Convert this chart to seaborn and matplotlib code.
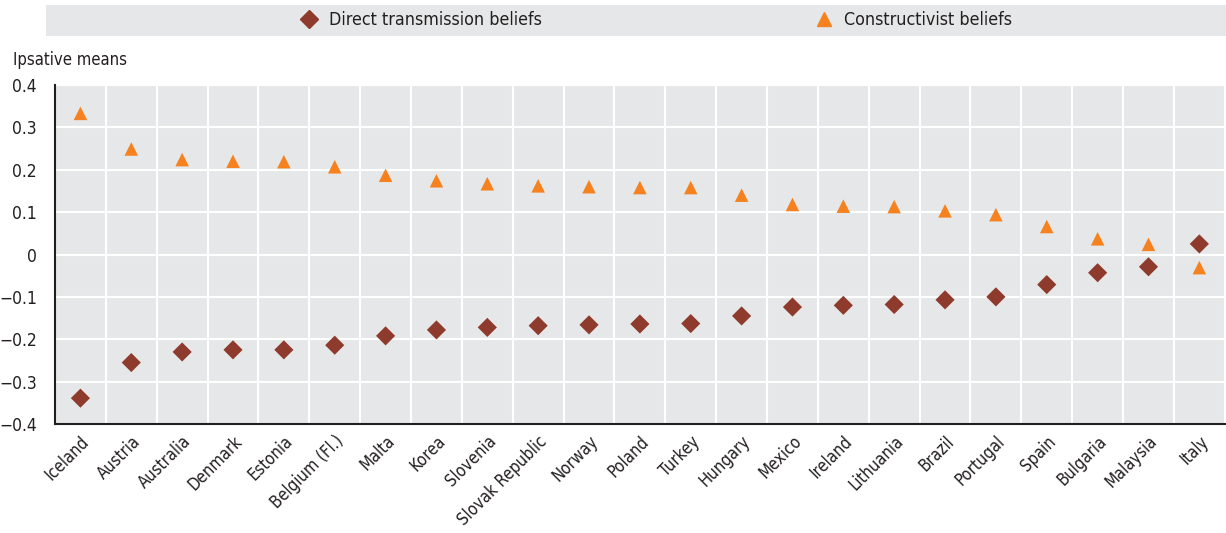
import numpy as np
import pandas as pd
import matplotlib
matplotlib.use("Agg")
import matplotlib.pyplot as plt
import seaborn as sns
from matplotlib.lines import Line2D
from matplotlib.patches import Rectangle
from matplotlib.ticker import FixedLocator, MultipleLocator

# Données
countries = ["Iceland", "Austria", "Australia", "Denmark", "Estonia", "Belgium (Fl.)",
             "Malta", "Korea", "Slovenia", "Slovak Republic", "Norway", "Poland",
             "Turkey", "Hungary", "Mexico", "Ireland", "Lithuania", "Brazil",
             "Portugal", "Spain", "Bulgaria", "Malaysia", "Italy"]
direct = [-0.339, -0.255, -0.230, -0.225, -0.225, -0.214, -0.192, -0.178, -0.172,
          -0.168, -0.166, -0.164, -0.163, -0.145, -0.124, -0.120, -0.118, -0.107,
          -0.100, -0.071, -0.043, -0.029, 0.025]
constructivist = [0.333, 0.249, 0.224, 0.220, 0.219, 0.207, 0.187, 0.174, 0.167,
                  0.162, 0.160, 0.158, 0.158, 0.140, 0.118, 0.114, 0.113, 0.103,
                  0.094, 0.066, 0.037, 0.024, -0.031]
series = ["Direct transmission beliefs", "Constructivist beliefs"]
y_ticks = [-0.4, -0.3, -0.2, -0.1, 0, 0.1, 0.2, 0.3, 0.4]
y_labels = ["\u22120.4", "\u22120.3", "\u22120.2", "\u22120.1", "0", "0.1", "0.2", "0.3", "0.4"]

COLORS = {series[0]: "#8E3A2C", series[1]: "#F5821F"}
MARKERS = {series[0]: "D", series[1]: "^"}
BG = "#E6E7E8"
TXT = "#231F20"

sns.set_style("white")
plt.rcParams["font.family"] = ["DejaVu Sans"]
plt.rcParams["font.stretch"] = "condensed"

df = pd.DataFrame({"country": countries, series[0]: direct, series[1]: constructivist})
long_df = df.melt(id_vars="country", var_name="serie", value_name="value")

fig = plt.figure(figsize=(12.26, 5.33), dpi=100)
ax = fig.add_axes([55 / 1226, 1 - 424 / 533, 1 - 55 / 1226 - 0.001, (424 - 85) / 533])
ax.set_facecolor(BG)

sns.scatterplot(data=long_df, x="country", y="value", hue="serie", style="serie",
                palette=COLORS, markers=MARKERS, s=95, linewidth=0, ax=ax, legend=False,
                zorder=3)

n = len(countries)
ax.set_xlim(-0.5, n - 0.5)
ax.set_ylim(-0.4, 0.4)
ax.yaxis.set_major_locator(FixedLocator(y_ticks))
ax.set_yticklabels(y_labels)
ax.set_xticks(range(n))
ax.set_xticklabels(countries, rotation=45, ha="right", va="top", rotation_mode="anchor")
ax.xaxis.set_minor_locator(MultipleLocator(1, offset=0.5))
ax.grid(True, which="minor", axis="x", color="white", linewidth=1.5)
ax.grid(True, which="major", axis="y", color="white", linewidth=1.5)
ax.set_axisbelow(True)

ax.tick_params(axis="x", which="major", length=0, labelsize=12, colors=TXT, pad=6)
ax.tick_params(axis="x", which="minor", length=5, direction="in", width=1, color="#555555")
ax.tick_params(axis="y", length=7, direction="in", width=1, labelsize=12.5, colors=TXT, pad=13)
for side in ["top", "right"]:
    ax.spines[side].set_visible(False)
for side in ["left", "bottom"]:
    ax.spines[side].set_color(TXT)
    ax.spines[side].set_linewidth(1.5)
ax.set_xlabel("")
ax.set_ylabel("")

fig.text(13 / 1226, 1 - 60 / 533, "Ipsative means", fontsize=12, color=TXT, va="center", ha="left")

# Légende en bandeau gris
fig.patches.append(Rectangle((46 / 1226, 1 - 36 / 533), 1 - 46 / 1226, 31 / 533,
                             transform=fig.transFigure, facecolor=BG, edgecolor="none", zorder=0))
handles = [Line2D([], [], marker=MARKERS[s], color=COLORS[s], linestyle="none", markersize=9.5)
           for s in series]
fig.legend(handles, series, loc="center", bbox_to_anchor=(0.535, 1 - 20 / 533), ncol=2,
           frameon=False, fontsize=12.8, handlelength=1, handletextpad=0.6, columnspacing=15.4,
           labelcolor=TXT)

fig.savefig("out.png", dpi=100)
